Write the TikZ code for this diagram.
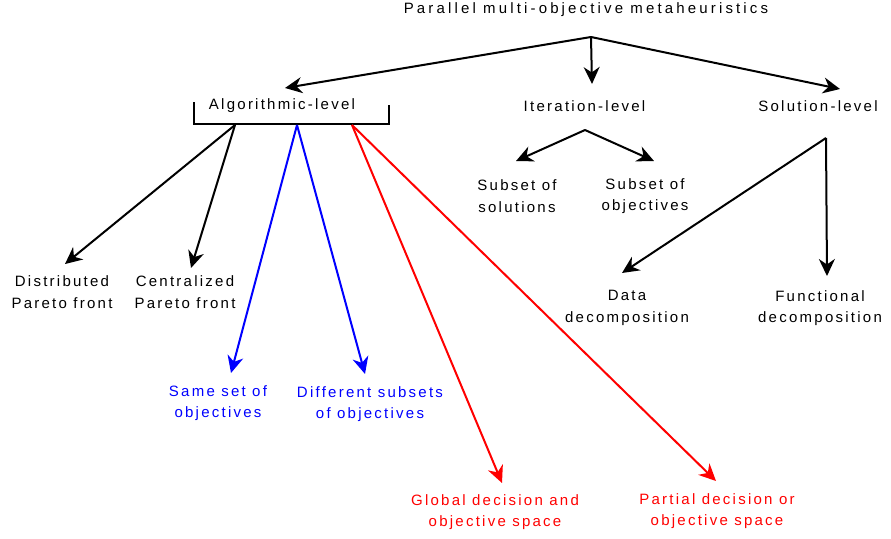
\documentclass[tikz,border=0pt]{standalone}
\usepackage{fontspec}
\setmainfont{Liberation Sans}[LetterSpace=15]
\newfontfamily\titlefont{Liberation Sans}[LetterSpace=21]
\usetikzlibrary{arrows.meta}
\definecolor{pblue}{RGB}{0,0,255}
\definecolor{pred}{RGB}{255,0,0}
\begin{document}
\begin{tikzpicture}[x=1pt,y=-1pt,
  lbl/.style={font=\fontsize{15}{21.5}\selectfont, align=center, inner sep=0pt, anchor=center},
  ttl/.style={font=\titlefont\fontsize{15}{21.5}\selectfont, inner sep=0pt, anchor=center},
  conn/.style={line width=2pt, -{Stealth[length=17pt,width=16pt,inset=5.5pt]}},
  bconn/.style={conn, draw=pblue},
  rconn/.style={conn, draw=pred}]
\useasboundingbox (0,0) rectangle (891,538);
% nodes
\node[ttl] (title) at (586,10) {Parallel multi-objective metaheuristics};
\node[lbl] (alg) at (282,106) {Algorithmic-level};
\node[lbl] (iter) at (584.5,106) {Iteration-level};
\node[lbl] (sol) at (818,106) {Solution-level};
\node[lbl] (subsol) at (517,196) {Subset of\\solutions};
\node[lbl] (subobj) at (645,196) {Subset of\\objectives};
\node[lbl] (data) at (627,308) {Data\\decomposition};
\node[lbl] (func) at (820,308) {Functional\\decomposition};
\node[lbl] (dist) at (62,292) {Distributed\\Pareto front};
\node[lbl] (cent) at (185,292) {Centralized\\Pareto front};
\node[lbl, text=pblue] (same) at (218,403) {Same set of\\objectives};
\node[lbl, text=pblue] (diff) at (370,404) {Different subsets\\of objectives};
\node[lbl, text=pred] (glob) at (495,512) {Global decision and\\objective space};
\node[lbl, text=pred] (part) at (717,511) {Partial decision or\\objective space};
% bracket
\draw[line width=2pt] (194,102) -- (194,124) -- (389,124) -- (389,105);
% fan points
\coordinate (top) at (591,37);
\coordinate (itf) at (585,130);
\coordinate (slf) at (826,138);
\coordinate (ab) at (235,125);
\coordinate (abl) at (297,125);
\coordinate (are) at (352,125);
% tips
\coordinate (talg) at (285,88);
\coordinate (titer) at (592,84);
\coordinate (tsol) at (840,89);
\coordinate (tsubsol) at (516,161);
\coordinate (tsubobj) at (654,161);
\coordinate (tdata) at (622,273);
\coordinate (tfunc) at (827,276);
\coordinate (tdist) at (65,264);
\coordinate (tcent) at (191,268);
\coordinate (tsame) at (231,373);
\coordinate (tdiff) at (365,374);
\coordinate (tglob) at (502,483);
\coordinate (tpart) at (716,481);
% connectors
\draw[conn] (top) -- (talg);
\draw[conn] (top) -- (titer);
\draw[conn] (top) -- (tsol);
\draw[conn] (itf) -- (tsubsol);
\draw[conn] (itf) -- (tsubobj);
\draw[conn] (slf) -- (tdata);
\draw[conn] (slf) -- (tfunc);
\draw[conn] (ab) -- (tdist);
\draw[conn] (ab) -- (tcent);
\draw[bconn] (abl) -- (tsame);
\draw[bconn] (abl) -- (tdiff);
\draw[rconn] (are) -- (tglob);
\draw[rconn] (are) -- (tpart);
\end{tikzpicture}
\end{document}
